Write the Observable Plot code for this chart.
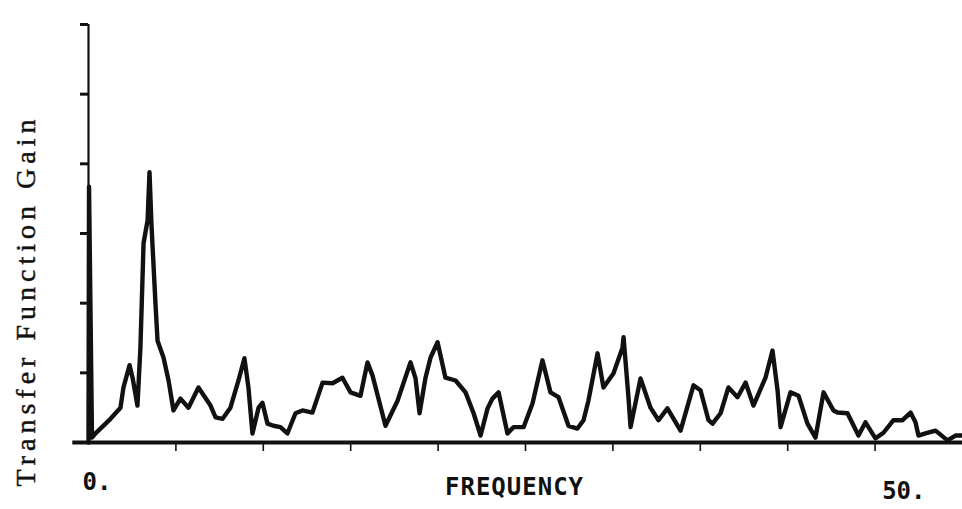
<!DOCTYPE html>
<html>
<head>
<meta charset="utf-8">
<script src="https://cdn.jsdelivr.net/npm/d3@7"></script>
<script src="https://cdn.jsdelivr.net/npm/@observablehq/plot@0.6"></script>
<style>
  html, body { margin: 0; padding: 0; background: #fff; }
  #chart svg { display: block; }
</style>
</head>
<body>
<div id="chart"></div>
<script>
// Transfer function gain spectrum, frequency 0–50
const frequency = [0, 0.03, 0.2, 0.4, 1.26, 1.83, 2.0, 2.35, 2.52, 2.8, 2.97, 3.15, 3.38, 3.49, 3.6, 3.83, 3.95, 4.29, 4.58, 4.86, 5.26, 5.72, 6.29, 6.98, 7.27, 7.67, 8.12, 8.58, 8.92, 9.15, 9.38, 9.73, 9.95, 10.24, 10.58, 10.98, 11.38, 11.84, 12.24, 12.81, 13.39, 13.96, 14.53, 14.99, 15.56, 15.96, 16.25, 16.99, 17.68, 18.42, 18.71, 18.94, 19.28, 19.57, 19.97, 20.42, 21.0, 21.57, 22.03, 22.43, 22.83, 23.11, 23.46, 23.97, 24.31, 24.89, 25.4, 25.97, 26.43, 26.89, 27.46, 27.97, 28.32, 28.6, 29.12, 29.46, 30.03, 30.55, 30.61, 30.89, 31.01, 31.58, 32.15, 32.61, 33.12, 33.87, 34.61, 35.01, 35.47, 35.7, 36.16, 36.61, 37.13, 37.59, 38.04, 38.73, 39.13, 39.42, 39.59, 40.16, 40.62, 41.13, 41.59, 42.05, 42.62, 42.85, 43.42, 44.05, 44.45, 45.02, 45.48, 46.05, 46.57, 47.03, 47.31, 47.48, 47.88, 48.46, 49.14, 49.6, 50.0];
const gain = [0, 3.67, 0.07, 0.13, 0.34, 0.5, 0.79, 1.11, 0.93, 0.53, 1.36, 2.86, 3.19, 3.88, 3.14, 2.0, 1.46, 1.22, 0.89, 0.46, 0.63, 0.5, 0.79, 0.53, 0.36, 0.34, 0.5, 0.89, 1.21, 0.79, 0.13, 0.5, 0.57, 0.27, 0.24, 0.22, 0.13, 0.42, 0.46, 0.43, 0.86, 0.85, 0.93, 0.72, 0.67, 1.15, 0.96, 0.24, 0.6, 1.15, 0.92, 0.42, 0.93, 1.22, 1.44, 0.93, 0.89, 0.72, 0.42, 0.1, 0.49, 0.63, 0.72, 0.13, 0.22, 0.22, 0.56, 1.18, 0.72, 0.65, 0.24, 0.2, 0.32, 0.6, 1.28, 0.79, 0.99, 1.36, 1.51, 0.65, 0.22, 0.92, 0.5, 0.32, 0.49, 0.17, 0.82, 0.75, 0.32, 0.27, 0.42, 0.79, 0.65, 0.86, 0.53, 0.93, 1.32, 0.75, 0.22, 0.72, 0.67, 0.27, 0.07, 0.72, 0.46, 0.43, 0.42, 0.1, 0.29, 0.06, 0.14, 0.32, 0.32, 0.43, 0.29, 0.1, 0.13, 0.17, 0.03, 0.1, 0.1];

const xTicks = [5, 10, 15, 20, 25, 30, 35, 40, 45];
const yTicks = [1, 2, 3, 4, 5, 6];
const xStartLabel = {x: 0, label: "0."};
const xEndLabel = {x: 50, label: "50."};
const xTitle = "FREQUENCY";
const yTitle = "Transfer Function Gain";

const spectrum = frequency.map((f, i) => ({frequency: f, gain: gain[i]}));
const ink = "#111";
const plotterFont = "'DejaVu Sans Mono', monospace";
const labelStyle = {fontFamily: plotterFont, fontWeight: "bold", fontSize: 24, fill: ink};

const chart = Plot.plot({
  width: 962,
  height: 509,
  marginLeft: 88,
  marginRight: 0,
  marginTop: 24,
  marginBottom: 67,
  style: {background: "#fff", overflow: "visible"},
  x: {domain: [0, 50], axis: null},
  y: {domain: [0, 6], axis: null},
  marks: [
    // vertical gain axis with outward ticks
    Plot.ruleX([0], {y1: 0, y2: 6, stroke: ink, strokeWidth: 2.2}),
    Plot.axisY(yTicks, {anchor: "left", tickSize: 8, tickFormat: () => "", label: null, stroke: ink, strokeWidth: 3}),
    // frequency axis
    Plot.axisX(xTicks, {anchor: "bottom", tickSize: 9, tickPadding: 0, tickFormat: () => "", label: null, stroke: ink, strokeWidth: 1.6}),
    Plot.ruleY([0], {x1: -0.9, x2: 50, stroke: ink, strokeWidth: 4}),
    // spectrum trace
    Plot.line(spectrum, {x: "frequency", y: "gain", stroke: ink, strokeWidth: 4.4, strokeLinejoin: "round", strokeLinecap: "round"}),
    // end labels of the frequency axis
    Plot.text([xStartLabel], {x: "x", y: () => 0, text: "label", textAnchor: "start", dx: -6, dy: 40, ...labelStyle}),
    Plot.text([xEndLabel], {x: "x", y: () => 0, text: "label", textAnchor: "end", dx: -37, dy: 49, ...labelStyle}),
    Plot.text([xTitle], {frameAnchor: "bottom", textAnchor: "middle", dx: -11, dy: 52, ...labelStyle}),
    // typewritten gain title
    Plot.text([yTitle], {
      frameAnchor: "left", textAnchor: "middle", rotate: -90, dx: -62, dy: 67,
      fontFamily: "'Liberation Serif', serif", fontSize: 28, fill: ink,
      stroke: ink, strokeWidth: 0.45
    })
  ]
});

// spaced lettering for the titles
const svg = d3.select(chart);
svg.selectAll("text").filter(function () { return this.textContent.trim() === yTitle; })
  .attr("letter-spacing", 5)
  .style("letter-spacing", "5px");
svg.selectAll("text").filter(function () { return this.textContent.trim() === xTitle; })
  .style("letter-spacing", "1px");

document.getElementById("chart").appendChild(chart);
</script>
</body>
</html>
